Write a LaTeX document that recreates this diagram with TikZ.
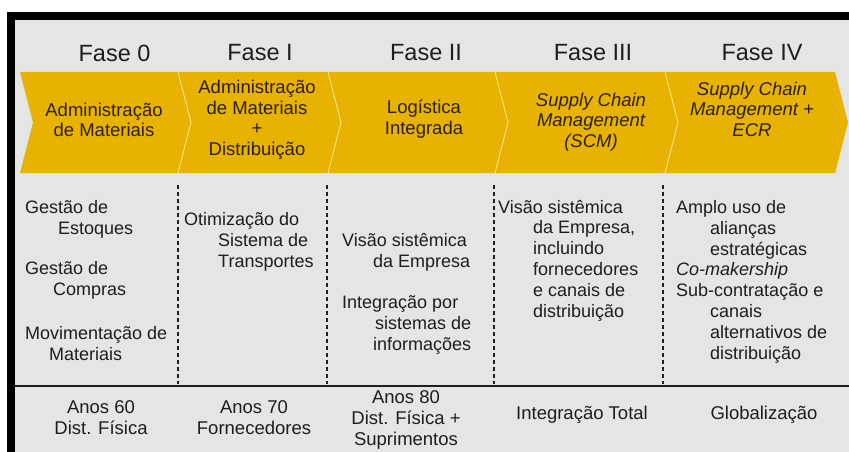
\documentclass[tikz,border=0pt]{standalone}
\usepackage{fontspec}
\setmainfont{Liberation Sans}
\definecolor{fundo}{RGB}{229,229,229}
\definecolor{ouro}{RGB}{231,178,0}
\definecolor{ouroclaro}{RGB}{246,224,130}
\definecolor{tinta}{RGB}{45,32,0}
\definecolor{texto}{RGB}{30,30,30}
\tikzset{
	fase/.style={font=\fontsize{23.5}{26}\selectfont, text=texto, inner sep=0},
	seta/.style={font=\fontsize{18.5}{20.5}\selectfont, text=tinta, align=center, inner sep=0},
	item/.style={font=\fontsize{18}{20.8}\selectfont, text=texto, align=left, anchor=base west, inner sep=0},
	epoca/.style={font=\fontsize{18.5}{21}\selectfont, text=texto, align=center, inner sep=0},
	divisoria/.style={dash pattern=on 4pt off 3pt, line width=1.6pt, color=texto},
}
\def\recuo#1{\hspace*{#1pt}}

\begin{document}
\begin{tikzpicture}[x=1pt, y=-1pt]
			%%%%% START %%%%%
			\useasboundingbox (0, 0) rectangle (849, 452);
			\fill[white] (0, 0) rectangle (849, 452);
			\fill[fundo] (15, 20) rectangle (849, 452);
			\fill[black] (7, 12) rectangle (849, 20);
			\fill[black] (7, 12) rectangle (15, 452);
			
			% fases
			\foreach \x/\t [count=\i from 0] in {114.5/Fase 0, 260/Fase I, 426/Fase II, 593/Fase III, 762/Fase IV}
				\node[fase] (fase\i) at (\x, 53) {\t};
			
			% setas amarelas
			\foreach \a/\b in {20/178, 178/328, 328/495, 495/665, 665/835}
				\fill[ouro] (\a, 72) -- (\b, 72) -- (\b+13, 122.5) -- (\b, 173) -- (\a, 173) -- (\a+13, 122.5) -- cycle;
			\foreach \b in {178, 328, 495, 665}
				\draw[ouroclaro, line width=1pt] (\b, 72) -- (\b+13, 122.5) -- (\b, 173);
			
			\node[seta] (seta0) at (104, 120) {Administração\\de Materiais};
			\node[seta] (seta1) at (257, 120) {Administração\\de Materiais\\+\\Distribuição};
			\node[seta] (seta2) at (424, 119) {Logística\\Integrada};
			\node[seta, font=\fontsize{18.5}{20.5}\selectfont\itshape] (seta3) at (591, 122) {Supply Chain\\Management\\(SCM)};
			\node[seta, font=\fontsize{18.5}{20.5}\selectfont\itshape] (seta4) at (752, 109) {Supply Chain\\Management +\\ECR};
			
			% divisorias
			\foreach \x in {178, 327, 494, 663}
				\draw[divisoria] (\x, 185) -- (\x, 384);
			\draw[line width=2.2pt, color=texto] (15, 386) -- (849, 386);
			
			% (base = ultima linha de cada bloco)
			% fase 0
			\node[item] (est) at (25, 234.5) {Gestão de\\\recuo{33}Estoques};
			\node[item] (comp) at (25, 295.5) {Gestão de\\\recuo{28}Compras};
			\node[item] (mov) at (25, 360) {Movimentação de\\\recuo{24}Materiais};
			% fase I
			\node[item] (otim) at (184, 267.5) {Otimização do\\\recuo{34}Sistema de\\\recuo{34}Transportes};
			% fase II
			\node[item] (visao) at (342, 267) {Visão sistêmica\\\recuo{31}da Empresa};
			\node[item] (integ) at (342, 350.5) {Integração por\\\recuo{33}sistemas de\\\recuo{31}informações};
			% fase III
			\node[item] (sist) at (498, 317) {Visão sistêmica\\\recuo{35}da Empresa,\\\recuo{35}incluindo\\\recuo{35}fornecedores\\\recuo{35}e canais de\\\recuo{35}distribuição};
			% fase IV
			\node[item] (amplo) at (676, 359) {Amplo uso de\\\recuo{34}alianças\\\recuo{34}estratégicas\\\textit{Co-makership}\\Sub-contratação e\\\recuo{34}canais\\\recuo{34}alternativos de\\\recuo{34}distribuição};
			
			% epocas
			\node[epoca] (anos60) at (101, 418) {Anos 60\\Dist. Física};
			\node[epoca] (anos70) at (254, 418) {Anos 70\\Fornecedores};
			\node[epoca] (anos80) at (406, 420) {Anos 80\\Dist. Física +\\Suprimentos};
			\node[epoca] (total) at (582, 415) {Integração Total};
			\node[epoca] (glob) at (764, 415) {Globalização};
			%%%%% END %%%%%
\end{tikzpicture}
\end{document}
